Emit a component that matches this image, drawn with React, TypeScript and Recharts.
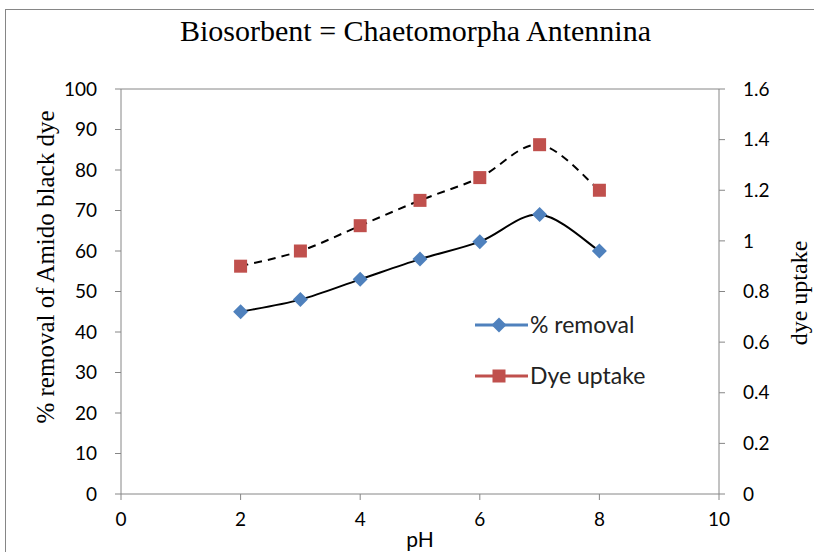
import React from 'react';
import { LineChart, Line, XAxis, YAxis, ReferenceLine } from 'recharts';

const phValues = [2, 3, 4, 5, 6, 7, 8];
const removalPct = [45, 48, 53, 58, 62.3, 69, 60];
const dyeUptake = [0.9, 0.96, 1.06, 1.16, 1.25, 1.38, 1.2];
const xTicks = [0, 2, 4, 6, 8, 10];
const leftTicks = [0, 10, 20, 30, 40, 50, 60, 70, 80, 90, 100];
const rightTicks = [0, 0.2, 0.4, 0.6, 0.8, 1, 1.2, 1.4, 1.6];
const seriesNames = ['% removal', 'Dye uptake'];

const data = phValues.map((ph, i) => ({ ph, removal: removalPct[i], uptake: dyeUptake[i] }));

const AXIS = '#868686';
const BLUE = '#4f81bd';
const RED = '#c0504d';
const TICK_FONT = 'Lato, "Open Sans", sans-serif';
const SERIF = '"Liberation Serif", "Times New Roman", serif';

// Excel-like smoothing (Catmull-Rom through the points)
const excelSmooth: any = (context: any) => {
  let pts: number[][] = [];
  return {
    areaStart() {},
    areaEnd() {},
    lineStart() { pts = []; },
    point(x: number, y: number) { pts.push([+x, +y]); },
    lineEnd() {
      if (!pts.length) return;
      context.moveTo(pts[0][0], pts[0][1]);
      for (let i = 0; i < pts.length - 1; i++) {
        const p0 = pts[i - 1] || pts[i];
        const p1 = pts[i];
        const p2 = pts[i + 1];
        const p3 = pts[i + 2] || p2;
        context.bezierCurveTo(
          p1[0] + (p2[0] - p0[0]) / 6, p1[1] + (p2[1] - p0[1]) / 6,
          p2[0] - (p3[0] - p1[0]) / 6, p2[1] - (p3[1] - p1[1]) / 6,
          p2[0], p2[1]
        );
      }
    },
  };
};

const Diamond = (props: any) => {
  const { cx, cy } = props;
  if (cx == null || cy == null) return null;
  const r = 7.5;
  return <polygon points={`${cx},${cy - r} ${cx + r},${cy} ${cx},${cy + r} ${cx - r},${cy}`} fill={BLUE} />;
};

const Square = (props: any) => {
  const { cx, cy } = props;
  if (cx == null || cy == null) return null;
  const s = 13;
  return <rect x={cx - s / 2} y={cy - s / 2} width={s} height={s} fill={RED} />;
};

const tickStyle = { fontFamily: TICK_FONT, fontSize: 19, fill: '#000' };

const fmtRight = (v: number) => (v === 0 || v === 1 ? String(v) : v.toFixed(1));

export default function App() {
  return (
    <div style={{ position: 'absolute', left: 0, top: 0, width: 814, height: 552, overflow: 'hidden', background: '#fff' }}>
      <div style={{ position: 'absolute', left: 5, top: 9, width: 900, height: 700, border: `1px solid ${AXIS}` }} />
      <div style={{ position: 'absolute', left: 0, top: 0 }}>
        <LineChart width={814} height={552} data={data} margin={{ top: 89, right: 0, bottom: 0, left: 0 }}>
          <XAxis
            dataKey="ph"
            type="number"
            domain={[0, 10]}
            ticks={xTicks}
            stroke={AXIS}
            tickSize={6}
            tickMargin={13}
            height={58}
            tick={tickStyle}
            tickLine={{ stroke: AXIS }}
          />
          <YAxis
            yAxisId="left"
            domain={[0, 100]}
            ticks={leftTicks}
            width={121}
            stroke={AXIS}
            tickSize={6}
            tickMargin={18}
            tick={tickStyle}
            interval={0}
          />
          <YAxis
            yAxisId="right"
            orientation="right"
            domain={[0, 1.6]}
            ticks={rightTicks}
            width={95}
            stroke={AXIS}
            tickSize={6}
            tickMargin={18}
            tick={tickStyle}
            tickFormatter={fmtRight}
            interval={0}
          />
          <ReferenceLine yAxisId="left" y={100} stroke={AXIS} strokeWidth={1} />
          <Line
            yAxisId="left"
            dataKey="removal"
            type={excelSmooth}
            stroke="#000"
            strokeWidth={2}
            dot={<Diamond />}
            activeDot={false}
            isAnimationActive={false}
            name={seriesNames[0]}
          />
          <Line
            yAxisId="right"
            dataKey="uptake"
            type={excelSmooth}
            stroke="#000"
            strokeWidth={2}
            strokeDasharray="8 6"
            dot={<Square />}
            activeDot={false}
            isAnimationActive={false}
            name={seriesNames[1]}
          />
        </LineChart>
      </div>
      {/* Title */}
      <div style={{ position: 'absolute', left: 0, top: 14, width: 831, textAlign: 'center', fontFamily: SERIF, fontSize: 30, lineHeight: '34px', color: '#000', whiteSpace: 'nowrap' }}>
        Biosorbent = Chaetomorpha Antennina
      </div>
      {/* Left axis title */}
      <div style={{ position: 'absolute', left: 46 - 200, top: 267 - 15, width: 400, height: 30, lineHeight: '30px', textAlign: 'center', transform: 'rotate(-90deg)', fontFamily: SERIF, fontSize: 25, color: '#000', whiteSpace: 'nowrap' }}>
        % removal of Amido black dye
      </div>
      {/* Right axis title */}
      <div style={{ position: 'absolute', left: 799 - 100, top: 293 - 15, width: 200, height: 30, lineHeight: '30px', textAlign: 'center', transform: 'rotate(-90deg)', fontFamily: SERIF, fontSize: 24, color: '#000', whiteSpace: 'nowrap' }}>
        dye uptake
      </div>
      {/* X axis title */}
      <div style={{ position: 'absolute', left: 320, top: 527, width: 200, textAlign: 'center', fontFamily: TICK_FONT, fontSize: 21, lineHeight: '24px', color: '#000' }}>
        pH
      </div>
      {/* Legend */}
      <svg style={{ position: 'absolute', left: 470, top: 300 }} width={220} height={100}>
        <line x1={5} y1={25} x2={58} y2={25} stroke={BLUE} strokeWidth={3} />
        <Diamond cx={29} cy={25} />
        <text x={60} y={25} dy="0.35em" fontFamily={TICK_FONT} fontSize={23} fill="#222">{seriesNames[0]}</text>
        <line x1={5} y1={76} x2={58} y2={76} stroke={RED} strokeWidth={3} />
        <Square cx={29} cy={76} />
        <text x={60} y={76} dy="0.35em" fontFamily={TICK_FONT} fontSize={23} fill="#222">{seriesNames[1]}</text>
      </svg>
    </div>
  );
}
